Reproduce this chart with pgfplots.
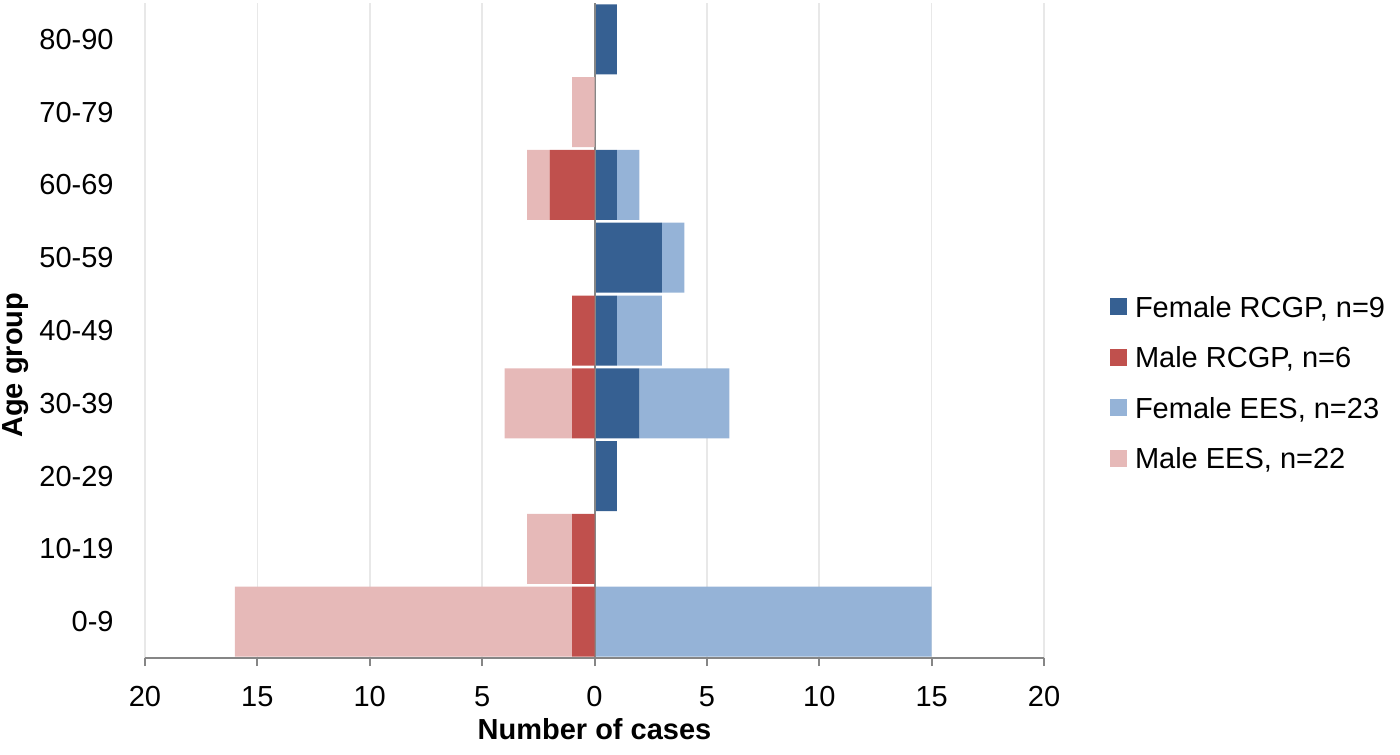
\documentclass[border=0pt]{standalone}
\usepackage{fontspec}
\setmainfont{Liberation Sans}
\usepackage{pgfplots}
\usepackage{pgfplotstable}
\pgfplotsset{compat=1.18}

\definecolor{fRCGP}{HTML}{366092}
\definecolor{mRCGP}{HTML}{C0504D}
\definecolor{fEES}{HTML}{95B3D7}
\definecolor{mEES}{HTML}{E6B9B8}
\definecolor{axgray}{HTML}{868686}
\definecolor{gridc}{HTML}{E8E8E8}

% age index: 0 = 0-9 ... 8 = 80-90; male values negative
\pgfplotstableread{
age fr fe mr me
0 0 15 -1 -15
1 0 0 -1 -2
2 1 0 0 0
3 2 4 -1 -3
4 1 2 -1 0
5 3 1 0 0
6 1 1 -2 -1
7 0 0 0 -1
8 1 0 0 0
}\agedata

\tikzset{txt/.style={font=\fontsize{14.5}{17}\selectfont}}
\pgfplotsset{
  pyr/.style={
    scale only axis, width=449.5pt, height=327.5pt,
    xmin=-20, xmax=20, ymin=-0.5, ymax=8.5,
    xbar stacked, bar width=0.962,
    ytick={0,...,8},
  },
}

\begin{document}
\begin{tikzpicture}
\useasboundingbox (-72.5pt,-48pt) rectangle (627.5pt,329pt);

% axis, grid, labels, female side
\begin{axis}[pyr,
  axis x line*=bottom, axis y line*=left,
  y axis line style={draw=none},
  x axis line style={draw=axgray, line width=1pt},
  xtick={-20,-15,...,20},
  xticklabels={20,15,10,5,0,5,10,15,20},
  yticklabels={0-9,10-19,20-29,30-39,40-49,50-59,60-69,70-79,80-90},
  tick align=outside, major tick length=4pt,
  xtick style={draw=axgray, line width=1pt},
  ytick style={draw=none},
  xmajorgrids, major grid style={draw=gridc, line width=0.8pt},
  /pgf/number format/assume math mode=true,
  tick label style={txt},
  xticklabel style={anchor=base, yshift=-20pt},
  yticklabel style={anchor=east, inner sep=0pt, xshift=-11.5pt},
  every axis x label/.style={at={(axis description cs:0.5,0)}, anchor=base, yshift=-40.5pt},
  every axis y label/.style={at={(axis description cs:-0.1435,0.447)}, rotate=90, anchor=center},
  xlabel={\fontsize{14.5}{17}\selectfont\bfseries Number of cases},
  ylabel={\fontsize{14.5}{17}\selectfont\bfseries Age group},
]
\addplot[fill=fRCGP, draw=none] table[x=fr, y=age] {\agedata};
\addplot[fill=fEES, draw=none] table[x=fe, y=age] {\agedata};
\end{axis}

% male side and legend
\begin{axis}[pyr, hide axis,
  legend image code/.code={\path[#1] (0pt,-4.25pt) rectangle (8.5pt,4.25pt);},
  legend cell align=left,
  legend style={draw=none, fill=none, inner sep=0pt, outer sep=0pt,
    at={(1.0734,0.4206)}, anchor=west,
    nodes={inner sep=0pt, text height=10.4pt, text depth=0pt, txt},
    row sep=14.8pt, column sep=4pt},
]
\addlegendimage{fill=fRCGP, draw=none}
\addlegendimage{fill=mRCGP, draw=none}
\addlegendimage{fill=fEES, draw=none}
\addlegendimage{fill=mEES, draw=none}
\addplot[fill=mRCGP, draw=none, forget plot] table[x=mr, y=age] {\agedata};
\addplot[fill=mEES, draw=none, forget plot] table[x=me, y=age] {\agedata};
\draw[axgray, line width=1pt] (axis cs:0,-0.5) -- (axis cs:0,8.5);
\legend{Female RCGP{,} n=9, Male RCGP{,} n=6, Female EES{,} n=23, Male EES{,} n=22}
\end{axis}
\end{tikzpicture}
\end{document}
